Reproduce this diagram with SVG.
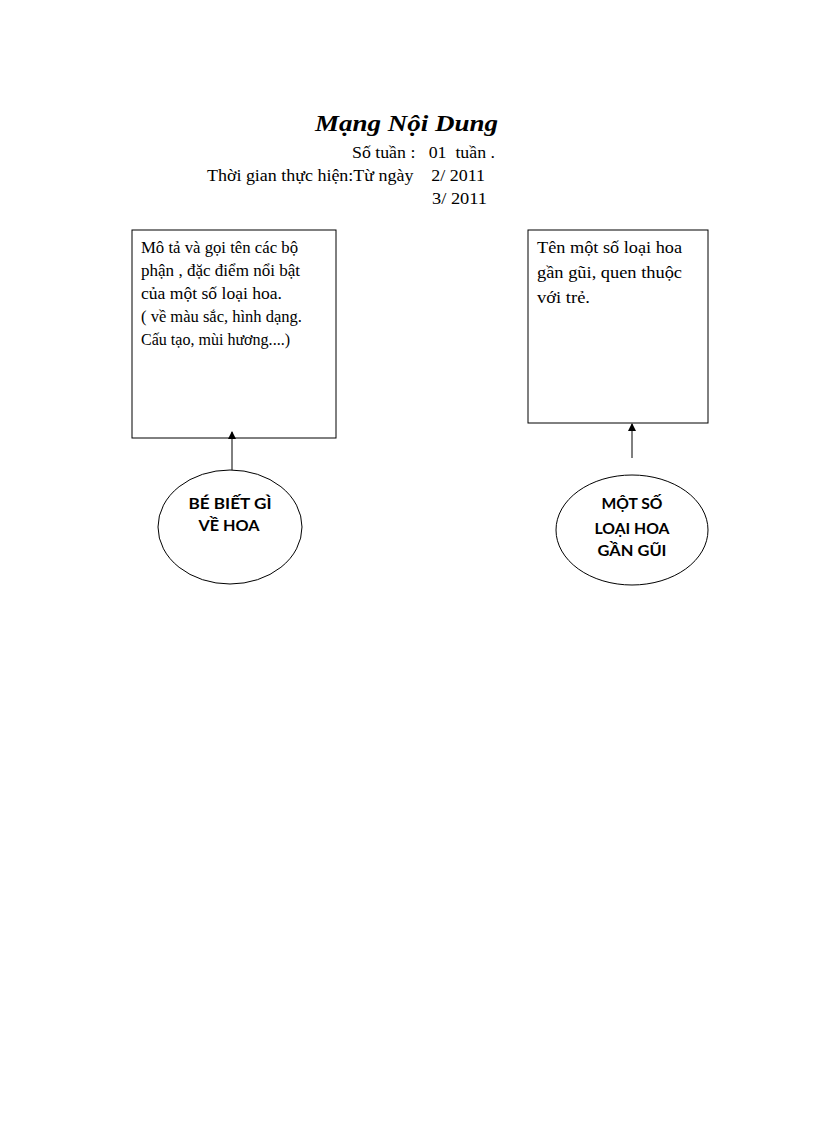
<svg xmlns="http://www.w3.org/2000/svg" width="816" height="1123" viewBox="0 0 816 1123">
<style>
.t{font-family:"Liberation Serif",serif;font-size:16px;fill:#000}
.b{fill:#fff;stroke:#000;stroke-width:1}
.e{font-family:Lato,"Open Sans","Liberation Sans",sans-serif;font-size:15px;font-weight:bold;fill:#000;text-anchor:middle}
.c{stroke:#000;stroke-width:1;fill:none}
</style>
<defs>
<marker id="ah" markerWidth="8" markerHeight="8" refX="7" refY="4" orient="auto" markerUnits="userSpaceOnUse">
<path d="M0,0 L8,4 L0,8 Z" fill="#000"/>
</marker>
</defs>
<rect width="816" height="1123" fill="#fff"/>
<g id="header">
<text x="315" y="131" textLength="183" lengthAdjust="spacingAndGlyphs" style="font-family:'Liberation Serif',serif;font-size:24px;font-style:italic;font-weight:bold">Mạng Nội Dung</text>
<text x="352" y="158" class="t" textLength="143" lengthAdjust="spacingAndGlyphs" xml:space="preserve">Số tuần :   01  tuần .</text>
<text x="207" y="181" class="t" textLength="278" lengthAdjust="spacingAndGlyphs" xml:space="preserve">Thời gian thực hiện:Từ ngày    2/ 2011</text>
<text x="432" y="204" class="t" textLength="55" lengthAdjust="spacingAndGlyphs">3/ 2011</text>
</g>
<g id="box-left">
<rect class="b" x="132" y="230" width="204" height="208"/>
<text class="t" x="141" y="253" textLength="157" lengthAdjust="spacingAndGlyphs">Mô tả và gọi tên các bộ</text>
<text class="t" x="141" y="276" textLength="159" lengthAdjust="spacingAndGlyphs">phận , đặc điểm nổi bật</text>
<text class="t" x="141" y="299" textLength="141" lengthAdjust="spacingAndGlyphs">của một số loại hoa.</text>
<text class="t" x="141" y="322" textLength="161" lengthAdjust="spacingAndGlyphs">( về màu sắc, hình dạng.</text>
<text class="t" x="141" y="345" textLength="149" lengthAdjust="spacingAndGlyphs">Cấu tạo, mùi hương....)</text>
</g>
<g id="box-right">
<rect class="b" x="528" y="230" width="180" height="193"/>
<text class="t" x="537" y="253" textLength="145" lengthAdjust="spacingAndGlyphs">Tên một số loại hoa</text>
<text class="t" x="537" y="278" textLength="145" lengthAdjust="spacingAndGlyphs">gần gũi, quen thuộc</text>
<text class="t" x="537" y="303" textLength="53" lengthAdjust="spacingAndGlyphs">với trẻ.</text>
</g>
<g id="ellipse-left">
<ellipse class="b" cx="230" cy="527" rx="72" ry="57"/>
<text class="e" x="230" y="509" textLength="83" lengthAdjust="spacingAndGlyphs">BÉ BIẾT GÌ</text>
<text class="e" x="229" y="531" textLength="61" lengthAdjust="spacingAndGlyphs">VỀ HOA</text>
</g>
<g id="ellipse-right">
<ellipse class="b" cx="632" cy="530" rx="76" ry="55"/>
<text class="e" x="632" y="509" textLength="61" lengthAdjust="spacingAndGlyphs">MỘT SỐ</text>
<text class="e" x="632" y="534" textLength="75" lengthAdjust="spacingAndGlyphs">LOẠI HOA</text>
<text class="e" x="632" y="556" textLength="69" lengthAdjust="spacingAndGlyphs">GẦN GŨI</text>
</g>
<g id="connectors">
<line class="c" x1="232" y1="470" x2="232" y2="432" marker-end="url(#ah)"/>
<line class="c" x1="632" y1="458" x2="632" y2="424" marker-end="url(#ah)"/>
</g>
</svg>
